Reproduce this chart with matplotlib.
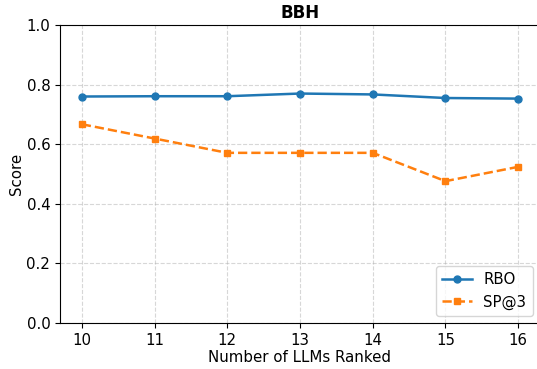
import matplotlib.pyplot as plt

n_llms = [10, 11, 12, 13, 14, 15, 16]
rbo = [0.760, 0.761, 0.761, 0.770, 0.767, 0.755, 0.753]
sp3 = [0.667, 0.619, 0.571, 0.571, 0.571, 0.476, 0.524]

fig = plt.figure(figsize=(5.37, 3.69), dpi=100)
ax = fig.add_axes([60 / 537, 46 / 369, 480 / 537, 298 / 369])

ax.plot(n_llms, rbo, marker='o', markersize=5, linewidth=1.8, linestyle='-', color='#1f77b4', label='RBO')
ax.plot(n_llms, sp3, marker='s', markersize=5, linewidth=1.8, linestyle='--', color='#ff7f0e', label='SP@3')

ax.set_title('BBH', fontsize=12, fontweight='bold', pad=5)
ax.set_xlabel('Number of LLMs Ranked', fontsize=10.8, labelpad=2)
ax.set_ylabel('Score', fontsize=10.8, labelpad=1.5)
ax.set_ylim(0, 1)
ax.set_xticks(n_llms)
ax.tick_params(labelsize=10.8)
ax.grid(True, linestyle='--', alpha=0.5)
ax.legend(loc='lower right', fontsize=10.8)

fig.savefig('out.png', dpi=100)
